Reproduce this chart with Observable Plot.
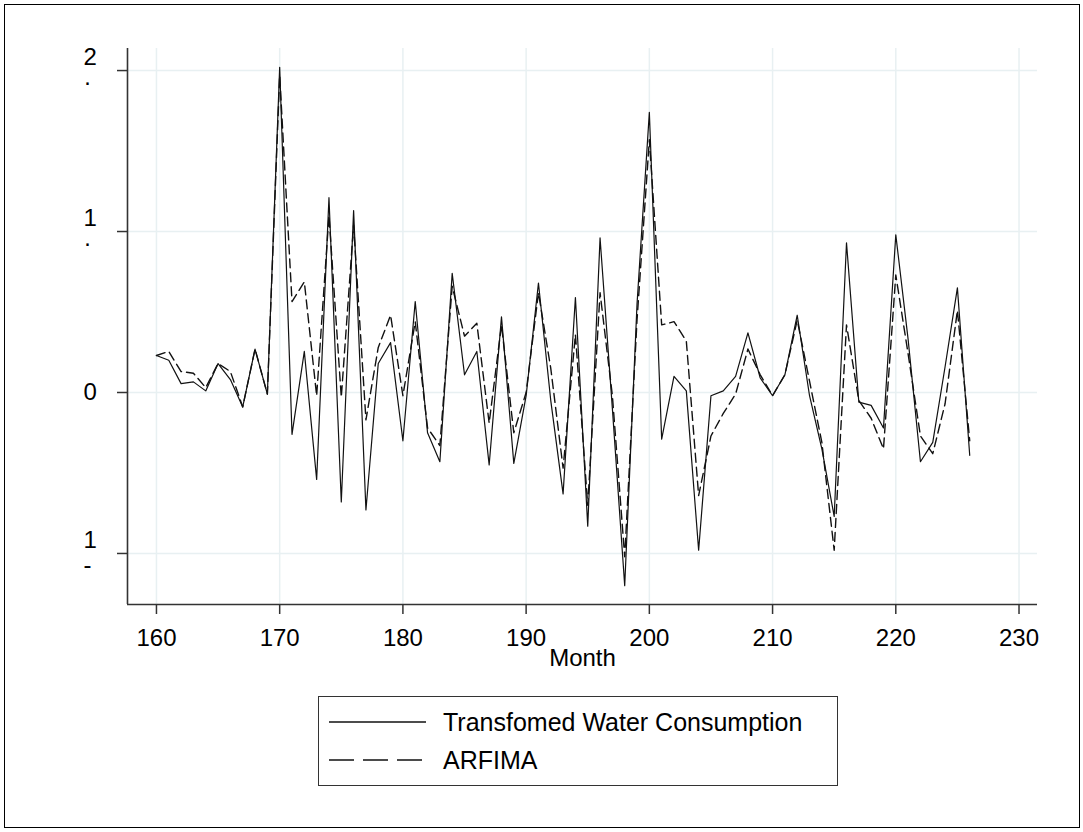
<!DOCTYPE html>
<html><head><meta charset="utf-8">
<script src="https://cdn.jsdelivr.net/npm/d3@7"></script>
<script src="https://cdn.jsdelivr.net/npm/@observablehq/plot@0.6"></script>
<style>
body{margin:0;background:#fff;font-family:"Liberation Sans",Arial,sans-serif;}
#wrap{position:relative;width:1083px;height:832px;overflow:hidden;background:#fff;}
#border{position:absolute;left:4px;top:4px;width:1076px;height:824px;border:1px solid #000;box-sizing:border-box;}
#chart{position:absolute;left:0;top:0;}
#legend{position:absolute;left:318px;top:696px;width:520px;height:90px;border:1.5px solid #333;box-sizing:border-box;background:#fff;}
</style></head>
<body><div id="wrap"><div id="border"></div><div id="chart"></div><div id="legend"></div></div>
<script>
const months = [160,161,162,163,164,165,166,167,168,169,170,171,172,173,174,175,176,177,178,179,
  180,181,182,183,184,185,186,187,188,189,190,191,192,193,194,195,196,197,198,199,
  200,201,202,203,204,205,206,207,208,209,210,211,212,213,214,215,216,217,218,219,
  220,221,222,223,224,225,226];
const water = [0.23,0.20,0.055,0.066,0.01,0.18,0.08,-0.09,0.27,-0.01,
  2.02,-0.26,0.255,-0.54,1.21,-0.68,1.13,-0.73,0.18,0.31,
  -0.30,0.565,-0.25,-0.43,0.74,0.11,0.255,-0.45,0.47,-0.44,
  -0.02,0.68,-0.05,-0.63,0.59,-0.83,0.96,-0.10,-1.20,0.55,
  1.74,-0.29,0.10,0.01,-0.98,-0.02,0.01,0.10,0.37,0.09,
  -0.02,0.11,0.48,-0.02,-0.35,-0.77,0.93,-0.06,-0.08,-0.22,
  0.98,0.33,-0.43,-0.31,0.16,0.65,-0.39];
const arfima = [0.23,0.255,0.13,0.12,0.03,0.18,0.13,-0.09,0.27,-0.01,
  1.97,0.565,0.687,-0.02,1.10,-0.03,1.04,-0.17,0.28,0.48,
  -0.02,0.44,-0.22,-0.33,0.66,0.35,0.43,-0.19,0.42,-0.25,
  0.0,0.62,0.15,-0.47,0.36,-0.70,0.62,-0.02,-1.02,0.45,
  1.57,0.42,0.44,0.32,-0.64,-0.27,-0.13,-0.01,0.27,0.11,
  -0.02,0.11,0.45,0.07,-0.31,-0.98,0.42,-0.05,-0.16,-0.35,
  0.73,0.24,-0.27,-0.38,-0.07,0.51,-0.30];
const xTicks = [160,170,180,190,200,210,220,230];
const yTicks = [-1,0,1,2];
const yTickLabels = ["1\n-","0","1\n·","2\n·"];
const seriesNames = ["Transfomed Water Consumption","ARFIMA"];
const xLabel = "Month";

const xDomain = [157.65, 231.5];
const yDomain = [-1.317, 2.137];
const data = months.map((m,i)=>({month:m, water:water[i], arfima:arfima[i]}));
const FONT = "'Liberation Sans', Arial, sans-serif";

const chart = Plot.plot({
  width:1083, height:680,
  marginLeft:127, marginRight:1083-1037, marginTop:48, marginBottom:76,
  x:{domain:xDomain, label:null},
  y:{domain:yDomain, label:null},
  style:{fontFamily:FONT, fontSize:"24px", color:"#000", background:"transparent", overflow:"visible"},
  marks:[
    Plot.gridX(xTicks, {stroke:"#e8f0f2", strokeOpacity:1, strokeWidth:1.5}),
    Plot.gridY(yTicks, {stroke:"#e8f0f2", strokeOpacity:1, strokeWidth:1.5}),
    Plot.lineY(data, {x:"month", y:"arfima", stroke:"#111", strokeWidth:1.4, strokeDasharray:"9,5"}),
    Plot.lineY(data, {x:"month", y:"water", stroke:"#111", strokeWidth:1.2}),
    Plot.ruleX([xDomain[0]], {stroke:"#333", strokeWidth:1.6}),
    Plot.ruleY([yDomain[0]], {stroke:"#333", strokeWidth:1.6}),
    Plot.axisX(xTicks, {tickSize:10, tickPadding:14, fontSize:24, stroke:"#333", strokeWidth:1.5, fill:"#000", label:null}),
    Plot.axisY(yTicks, {tickSize:10, tickFormat:()=>"", stroke:"#333", strokeWidth:1.5, label:null}),
    Plot.text(yTicks, {y:d=>d, frameAnchor:"left", dx:-44, dy:-1, textAnchor:"start", text:yTickLabels, fontSize:24, fill:"#000", lineHeight:1.05}),
    Plot.text([xLabel], {frameAnchor:"bottom", dy:61, text:d=>d, fontSize:24, fill:"#000"})
  ]
});
document.getElementById("chart").appendChild(chart);

const leg = document.getElementById("legend");
leg.innerHTML = `
<svg width="517" height="87" style="position:absolute;left:0;top:0;font-family:${FONT}">
  <line x1="10" x2="107" y1="25" y2="25" stroke="#111" stroke-width="1.4"/>
  <line x1="10" x2="107" y1="63" y2="63" stroke="#111" stroke-width="1.4" stroke-dasharray="25,9"/>
  <text x="124" y="25" dy="0.35em" font-size="25" fill="#000">${seriesNames[0]}</text>
  <text x="124" y="63" dy="0.35em" font-size="25" fill="#000">${seriesNames[1]}</text>
</svg>`;
</script>
</body></html>
